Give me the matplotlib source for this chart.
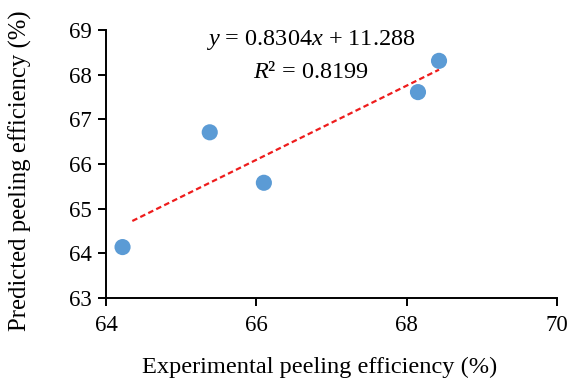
import matplotlib.pyplot as plt
import numpy as np

plt.rcParams['font.family'] = ['Liberation Serif', 'DejaVu Serif']
plt.rcParams['mathtext.fontset'] = 'custom'
plt.rcParams['mathtext.it'] = 'Liberation Serif:italic'
plt.rcParams['mathtext.rm'] = 'Liberation Serif'

experimental = [64.22, 65.38, 66.10, 68.15, 68.43]
predicted = [64.14, 66.71, 65.58, 67.61, 68.31]
slope = 0.8304
intercept = 11.288
r_squared = 0.8199
trend_start = 64.35
x_ticks = [64, 66, 68, 70]
y_ticks = [63, 64, 65, 66, 67, 68, 69]

fig = plt.figure(figsize=(5.69, 3.85), dpi=100)
ax = fig.add_axes([0.1863, 0.226, 0.7927, 0.696])

# dashed linear trendline
tx = np.array([trend_start, max(experimental)])
ax.plot(tx, slope * tx + intercept, color='#EE1C1C', linestyle=(0, (2.5, 1.5)), linewidth=1.6, zorder=2)
ax.scatter(experimental, predicted, s=135, color='#5B9BD5', edgecolors='none', zorder=3)

ax.text(66.72, 68.78, '$y$ = %.4f$x$ + %.3f' % (slope, intercept), ha='center', va='center', fontsize=17.5)
ax.text(66.72, 68.05, '$R$² = %.4f' % r_squared, ha='center', va='center', fontsize=17.5)

ax.set_xlim(64, 70)
ax.set_ylim(63, 69)
ax.set_xticks(x_ticks)
ax.set_yticks(y_ticks)
ax.tick_params(labelsize=16.5, direction='out', length=6, width=1.4)
ax.tick_params(axis='x', pad=6)
ax.tick_params(axis='y', pad=4)
for side in ['top', 'right']:
    ax.spines[side].set_visible(False)
for side in ['left', 'bottom']:
    ax.spines[side].set_linewidth(1.4)

ax.set_xlabel('Experimental peeling efficiency (%)', fontsize=17.6)
ax.set_ylabel('Predicted peeling efficiency (%)', fontsize=17.8)
ax.xaxis.set_label_coords(0.4745, -0.22)
ax.yaxis.set_label_coords(-0.165, 0.475)

fig.savefig('out.png', dpi=100)
